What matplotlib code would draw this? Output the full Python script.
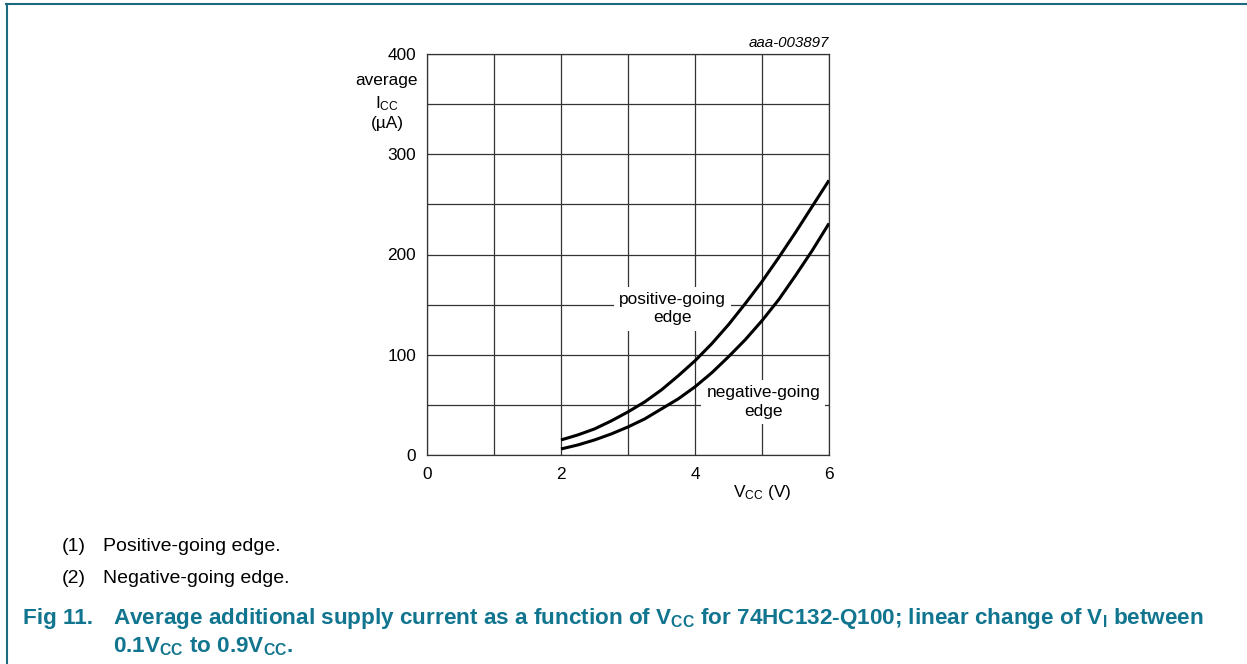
import matplotlib
matplotlib.use("Agg")
import matplotlib.pyplot as plt
from matplotlib.lines import Line2D

plt.rcParams['font.family'] = ['Liberation Sans', 'DejaVu Sans']
plt.rcParams['mathtext.fontset'] = 'custom'
plt.rcParams['mathtext.rm'] = 'Liberation Sans'
plt.rcParams['mathtext.it'] = 'Liberation Sans:italic'
plt.rcParams['mathtext.bf'] = 'Liberation Sans:bold'

# Data
vcc = [2.0, 2.25, 2.5, 2.75, 3.0, 3.25, 3.5, 3.75, 4.0, 4.25, 4.5, 4.75, 5.0, 5.25, 5.5, 5.75, 6.0]
icc_positive = [15, 20, 26, 34, 43, 53, 65, 79, 94, 111, 130, 151, 173, 197, 222, 248, 274]
icc_negative = [6, 10, 15, 21, 28, 36, 46, 56, 68, 82, 98, 115, 134, 155, 179, 204, 231]
x_ticks = [0, 2, 4, 6]
y_ticks = [0, 100, 200, 300, 400]
x_grid = [0, 1, 2, 3, 4, 5, 6]
y_grid = [0, 50, 100, 150, 200, 250, 300, 350, 400]

W, H = 1247, 664
fig = plt.figure(figsize=(W / 100, H / 100), dpi=100)
fig.patch.set_facecolor('white')

teal = '#11758F'
border = '#1B6A80'
CH = 12.4  # chart text size

def fy(py):
    return 1 - py / H

# page frame lines
fig.add_artist(Line2D([6 / W, 1.0], [fy(3.5), fy(3.5)], color=border, lw=1.5, transform=fig.transFigure))
fig.add_artist(Line2D([7 / W, 7 / W], [0, fy(3.5)], color=border, lw=1.5, transform=fig.transFigure))

x0, x1 = 427, 829
y0, y1 = 455, 54
ax = fig.add_axes([x0 / W, fy(y0), (x1 - x0) / W, (y0 - y1) / H])
ax.set_xlim(0, 6)
ax.set_ylim(0, 400)

for xv in x_grid:
    ax.axvline(xv, color='#333333', lw=0.9, zorder=1)
for yv in y_grid:
    ax.axhline(yv, color='#333333', lw=0.9, zorder=1)

for s in ax.spines.values():
    s.set_color('#333333')
    s.set_linewidth(0.9)

ax.set_xticks(x_ticks)
ax.set_yticks(y_ticks)
ax.tick_params(axis='x', length=0, labelsize=CH, pad=8.4)
ax.tick_params(axis='y', length=0, labelsize=CH, pad=7.9)
ax.set_xticklabels([str(v) for v in x_ticks])
ax.set_yticklabels([str(v) for v in y_ticks])

ax.plot(vcc, icc_positive, color='black', lw=2.2, zorder=4, solid_capstyle='butt')
ax.plot(vcc, icc_negative, color='black', lw=2.2, zorder=4, solid_capstyle='butt')

bbox = dict(boxstyle='square,pad=0.3', facecolor='white', edgecolor='none')
ax.text(3.66, 146, 'positive-going\nedge', ha='center', va='center', fontsize=CH,
        linespacing=1.3, bbox=bbox, zorder=3)
ax.text(5.02, 53, 'negative-going\nedge', ha='center', va='center', fontsize=CH,
        linespacing=1.3, bbox=bbox, zorder=3)

# axis labels
fig.text(387 / W, fy(85), 'average', ha='center', va='baseline', fontsize=CH)
fig.text(387 / W, fy(108), r'I$_\mathregular{CC}$', ha='center', va='baseline', fontsize=CH)
fig.text(387 / W, fy(128), '(µA)', ha='center', va='baseline', fontsize=CH)
fig.text(762 / W, fy(497), r'V$_\mathregular{CC}$ (V)', ha='center', va='baseline', fontsize=CH)
fig.text(829 / W, fy(47), 'aaa-003897', ha='right', va='baseline', fontsize=10.9, style='italic')

# notes
NS = 14
fig.text(62 / W, fy(551), '(1)', ha='left', va='baseline', fontsize=NS)
fig.text(103 / W, fy(551), 'Positive-going edge.', ha='left', va='baseline', fontsize=NS)
fig.text(62 / W, fy(583), '(2)', ha='left', va='baseline', fontsize=NS)
fig.text(103 / W, fy(583), 'Negative-going edge.', ha='left', va='baseline', fontsize=NS)

# caption
CS = 16.2
fig.text(23 / W, fy(624), 'Fig 11.', ha='left', va='baseline', fontsize=CS,
         fontweight='bold', color=teal)
fig.text(113 / W, fy(624),
         r'Average additional supply current as a function of V$_\mathregular{CC}$ for 74HC132-Q100; '
         r'linear change of V$_\mathregular{I}$ between',
         ha='left', va='baseline', fontsize=CS, fontweight='bold', color=teal)
fig.text(113 / W, fy(652),
         r'0.1V$_\mathregular{CC}$ to 0.9V$_\mathregular{CC}$.',
         ha='left', va='baseline', fontsize=CS, fontweight='bold', color=teal)

fig.savefig('out.png', dpi=100, facecolor='white')
